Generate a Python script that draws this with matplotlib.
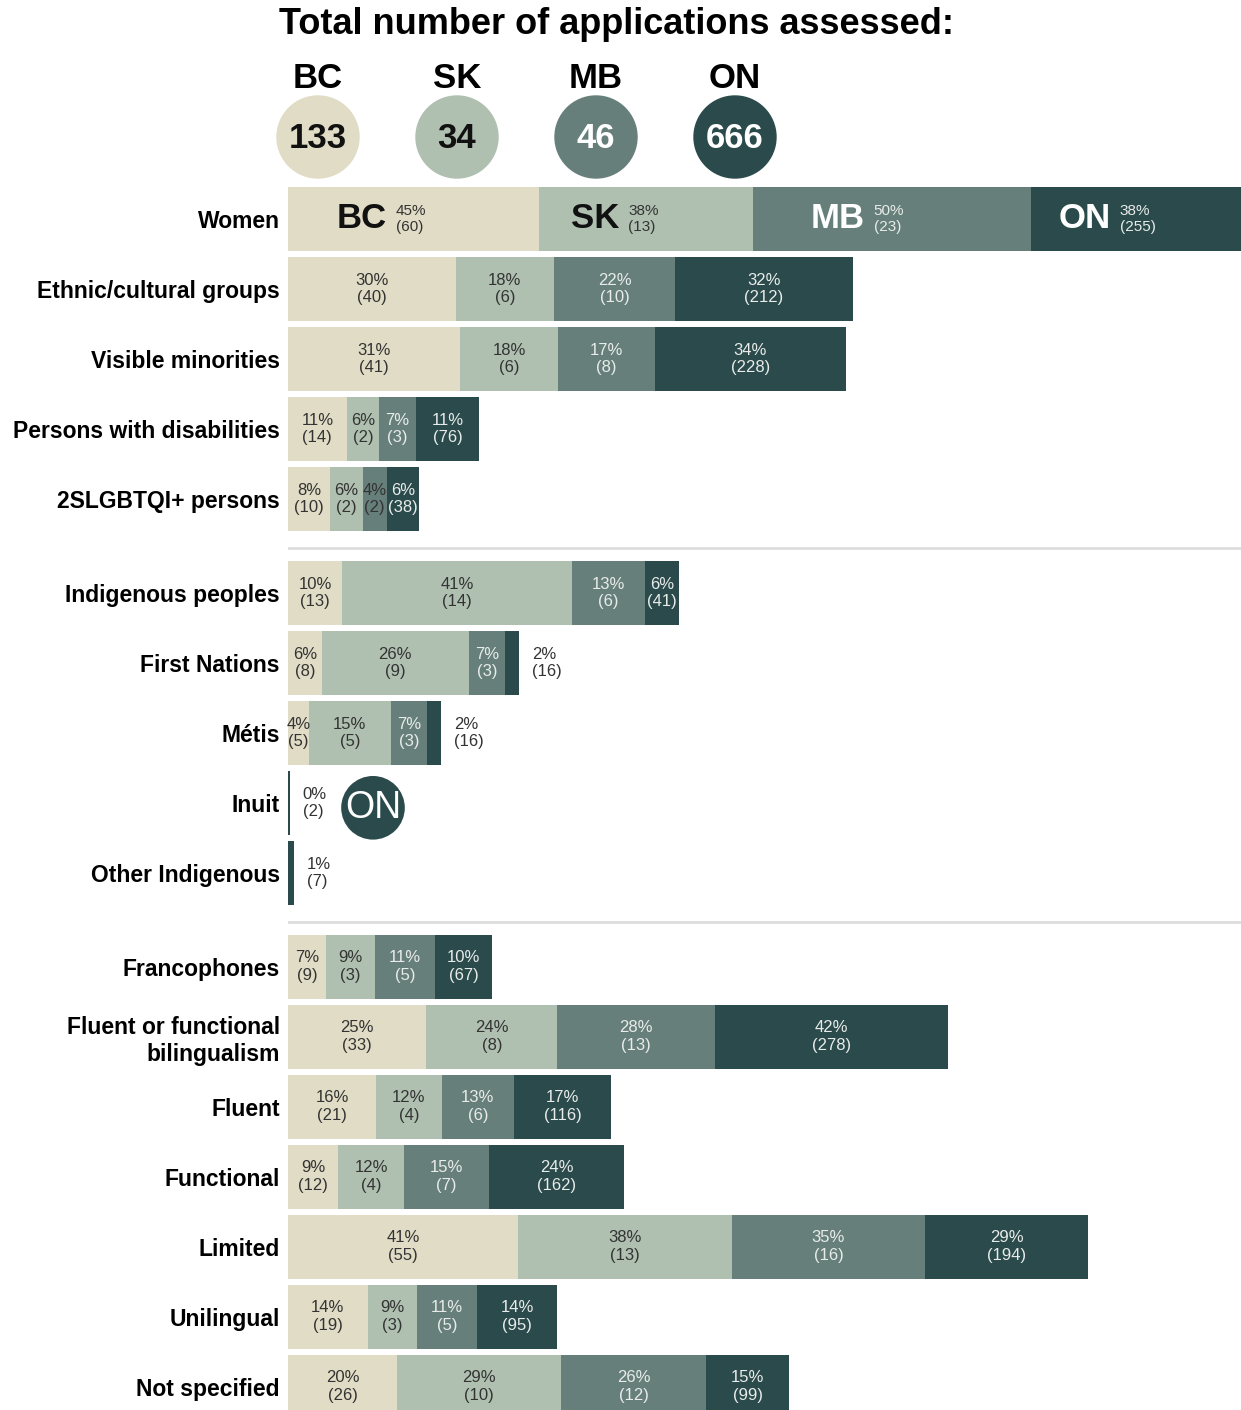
import matplotlib.pyplot as plt
from matplotlib.patches import Circle
import numpy as np

plt.rcParams['font.family'] = ['Liberation Sans', 'DejaVu Sans']

# données
provinces = ['BC', 'SK', 'MB', 'ON']
totals = [133, 34, 46, 666]
colors = ['#e0dcc5', '#afc0b0', '#677f7a', '#2b4a4b']

groups = [
    ['Women', 'Ethnic/cultural groups', 'Visible minorities',
     'Persons with disabilities', '2SLGBTQI+ persons'],
    ['Indigenous peoples', 'First Nations', 'Métis', 'Inuit', 'Other Indigenous'],
    ['Francophones', 'Fluent or functional\nbilingualism', 'Fluent', 'Functional',
     'Limited', 'Unilingual', 'Not specified'],
]

# nombre de demandes par catégorie : BC, SK, MB, ON (None = non applicable)
bc_counts = [60, 40, 41, 14, 10, 13, 8, 5, None, None, 9, 33, 21, 12, 55, 19, 26]
sk_counts = [13, 6, 6, 2, 2, 14, 9, 5, None, None, 3, 8, 4, 4, 13, 3, 10]
mb_counts = [23, 10, 8, 3, 2, 6, 3, 3, None, None, 5, 13, 6, 7, 16, 5, 12]
on_counts = [255, 212, 228, 76, 38, 41, 16, 16, 2, 7, 67, 278, 116, 162, 194, 95, 99]

# pourcentages affichés
bc_pct = [45, 30, 31, 11, 8, 10, 6, 4, None, None, 7, 25, 16, 9, 41, 14, 20]
sk_pct = [38, 18, 18, 6, 6, 41, 26, 15, None, None, 9, 24, 12, 12, 38, 9, 29]
mb_pct = [50, 22, 17, 7, 4, 13, 7, 7, None, None, 11, 28, 13, 15, 35, 11, 26]
on_pct = [38, 32, 34, 11, 6, 6, 2, 2, 0, 1, 10, 42, 17, 24, 29, 14, 15]

counts = [bc_counts, sk_counts, mb_counts, on_counts]
pcts = [bc_pct, sk_pct, mb_pct, on_pct]

# positions des lignes
gap = 0.34
labels, ypos = [], []
for g, cats in enumerate(groups):
    for c in cats:
        ypos.append(len(labels) + g * gap)
        labels.append(c)
ypos = np.array(ypos)

W, H = 1241, 1410
fig = plt.figure(figsize=(W / 100, H / 100), dpi=100)

# barres
top_px = 160
ax = fig.add_axes([288 / W, 0, 1 - 288 / W, (H - top_px) / H])
ax.patch.set_visible(False)
left = np.zeros(len(labels))
for k in range(4):
    widths = np.array([0 if c is None else c / totals[k] * 100 for c in counts[k]])
    ax.barh(ypos, widths, left=left, height=0.914, color=colors[k])
    for i, (w, c, p) in enumerate(zip(widths, counts[k], pcts[k])):
        if c is None:
            continue
        cx = left[i] + w / 2
        dark = k < 2 or w < 5
        tcol = '#333333' if dark else '#e8ecea'
        if i == 0:
            tcol2 = '#111111' if k < 2 else 'white'
            ax.annotate(provinces[k], (cx, ypos[i]), xytext=(-27, 0),
                        textcoords='offset pixels', ha='right', va='center',
                        fontsize=25, fontweight='bold', color=tcol2)
            ax.annotate(f'{p}%\n({c})', (cx, ypos[i]), xytext=(-18, 0),
                        textcoords='offset pixels', ha='left', va='center',
                        fontsize=11, color=tcol, linespacing=1.1)
        elif w < 3:
            ax.annotate(f'{p}%\n({c})', (left[i] + w, ypos[i]), xytext=(13, 0),
                        textcoords='offset pixels', ha='left', va='center',
                        fontsize=12, color='#333333', linespacing=1.2)
        else:
            ax.text(cx, ypos[i], f'{p}%\n({c})', ha='center', va='center',
                    fontsize=12, color=tcol, linespacing=1.2)
    left += widths

# cercle "ON" pour Inuit
i_inuit = labels.index('Inuit')
ax.annotate('ON', (0, ypos[i_inuit]), xytext=(85, -5), textcoords='offset pixels',
            ha='center', va='center', fontsize=27, color='white',
            bbox=dict(boxstyle='circle,pad=0.1', fc=colors[3], ec='none'))

# séparateurs
n1 = len(groups[0])
n2 = n1 + len(groups[1])
for a, b in [(n1 - 1, n1), (n2 - 1, n2)]:
    ax.axhline((ypos[a] + ypos[b]) / 2 + 0.03, color='#dddddd', lw=2)

ax.set_xlim(0, 171)
ax.set_ylim((H - 219) / 70, -(219 - top_px) / 70)
ax.set_yticks(ypos)
ax.set_yticklabels(labels, fontsize=16.5, fontweight='bold')
ax.tick_params(axis='y', length=0, pad=6)
ax.set_xticks([])
for s in ax.spines.values():
    s.set_visible(False)

# titre et cercles
fig.text(0.497, 1 - 25 / H, 'Total number of applications assessed:',
         ha='center', va='center', fontsize=26, fontweight='bold')
axh = fig.add_axes([0, 1 - 185 / H, 1, 185 / H])
axh.set_xlim(0, W)
axh.set_ylim(185, 0)
axh.axis('off')
for i, (p, t, col) in enumerate(zip(provinces, totals, colors)):
    cx = 318 + 139 * i
    axh.add_patch(Circle((cx, 137), 41, color=col))
    axh.text(cx, 78, p, ha='center', va='center', fontsize=25, fontweight='bold')
    axh.text(cx, 138, str(t), ha='center', va='center', fontsize=25, fontweight='bold',
             color='#111111' if i < 2 else 'white')

plt.savefig('out.png', dpi=100)
